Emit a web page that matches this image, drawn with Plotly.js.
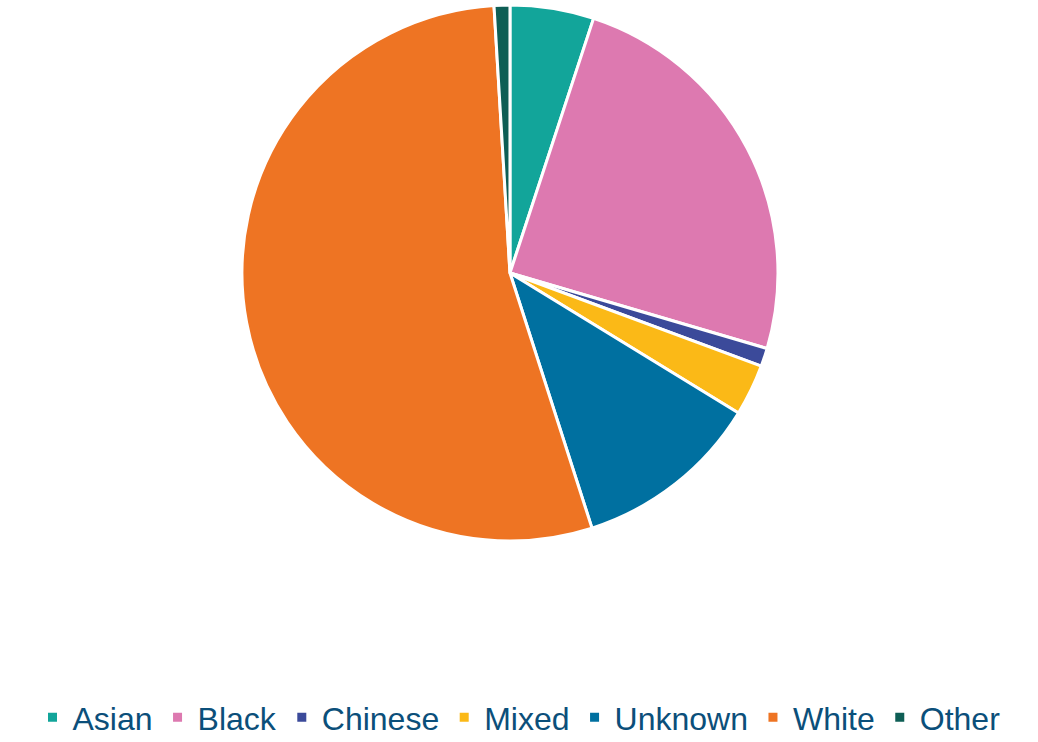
<!DOCTYPE html>
<html>
<head>
<meta charset="utf-8">
<script src="https://cdn.plot.ly/plotly-3.0.1.min.js"></script>
<style>html,body{margin:0;padding:0;background:#fff;}#chart{width:1038px;height:742px;}</style>
</head>
<body>
<div id="chart"></div>
<script>
const categories = ["Asian", "Black", "Chinese", "Mixed", "Unknown", "White", "Other"];
const values = [5.05, 24.5, 1.1, 3.1, 11.3, 54.0, 0.95];
const colors = ["#12A59A", "#DD79B0", "#3B4A9A", "#FBB917", "#0070A0", "#EE7423", "#0E5E55"];

const trace = {
  type: "pie",
  labels: categories,
  values: values,
  sort: false,
  direction: "clockwise",
  rotation: 0,
  textinfo: "none",
  hoverinfo: "label+percent",
  marker: { colors: colors, line: { color: "#ffffff", width: 3 } },
  domain: { x: [0.2331, 0.7495], y: [0.2709, 0.9933] }
};

const layout = {
  width: 1038,
  height: 742,
  margin: { l: 0, r: 0, t: 0, b: 0, autoexpand: false },
  paper_bgcolor: "#ffffff",
  showlegend: true,
  legend: {
    orientation: "h",
    x: 0.5,
    xanchor: "center",
    y: -0.004,
    yanchor: "bottom",
    font: { family: "Liberation Sans, Arial, sans-serif", size: 32, color: "#0B4F7A" },
    itemclick: false,
    traceorder: "normal"
  }
};

Plotly.newPlot("chart", [trace], layout, { displayModeBar: false, staticPlot: true });
</script>
</body>
</html>
